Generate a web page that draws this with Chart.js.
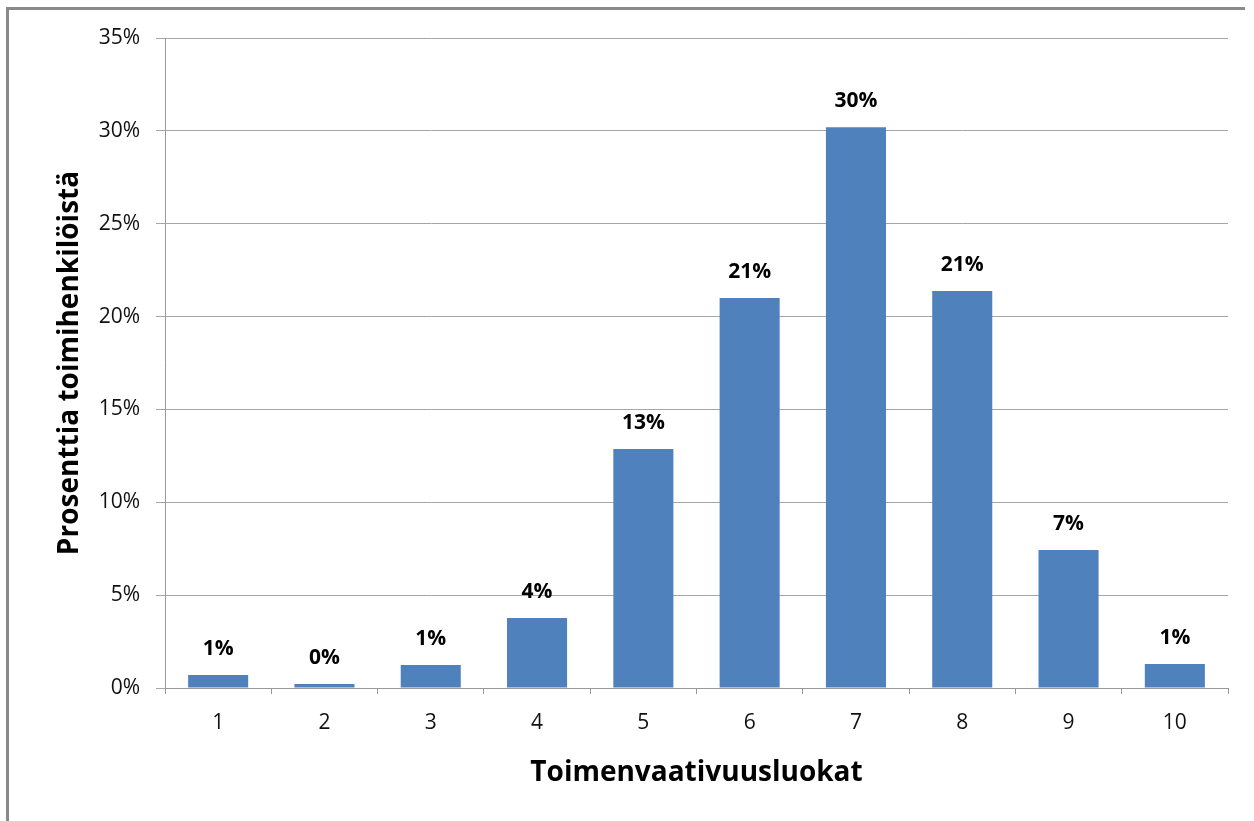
<!DOCTYPE html>
<html>
<head>
<meta charset="utf-8">
<script src="https://cdn.jsdelivr.net/npm/chart.js@4.4.1/dist/chart.umd.min.js"></script>
<style>
	html, body { margin: 0; padding: 0; background: #fff; }
	#wrap { position: relative; width: 1254px; height: 821px; overflow: hidden; }
	#frame { position: absolute; left: 6px; top: 7px; width: 1236px; height: 830px; border-top: 3px solid #8a8a8a; border-left: 3px solid #8a8a8a; pointer-events: none; }
	canvas { position: absolute; left: 0; top: 0; }
</style>
</head>
<body>
<div id="wrap">
	<canvas id="chart" width="1254" height="821"></canvas>
	<div id="frame"></div>
</div>
<script>
var categories = ['1', '2', '3', '4', '5', '6', '7', '8', '9', '10'];
var shareValues = [0.70, 0.22, 1.24, 3.77, 12.87, 21.0, 30.2, 21.38, 7.43, 1.29];
var yTicks = [0, 5, 10, 15, 20, 25, 30, 35];

// draws the percentage above each bar
const barLabels = {
	id: 'barLabels',
	afterDatasetsDraw(chart) {
		const ctx = chart.ctx;
		const meta = chart.getDatasetMeta(0);
		ctx.save();
		ctx.font = 'bold 21px "Open Sans"';
		ctx.fillStyle = '#000';
		ctx.textAlign = 'center';
		ctx.textBaseline = 'middle';
		meta.data.forEach(function (bar, i) {
			ctx.fillText(Math.round(shareValues[i]) + '%', bar.x, bar.y - 26);
		});
		ctx.restore();
	}
};

const el = document.getElementById('chart');
new Chart(el, {
	type: 'bar',
	data: {
		labels: categories,
		datasets: [{
			data: shareValues,
			backgroundColor: '#4f81bd',
			barPercentage: 0.565,
			categoryPercentage: 1.0
		}]
	},
	options: {
		responsive: false,
		animation: false,
		layout: { padding: { left: 40, right: 26, top: 38, bottom: 0 } },
		plugins: {
			legend: { display: false },
			tooltip: { enabled: false }
		},
		scales: {
			x: {
				offset: true,
				grid: { offset: true, drawOnChartArea: false, tickLength: 6, color: '#999' },
				border: { color: '#999' },
				ticks: { color: '#111', padding: 16, font: { family: 'Open Sans', size: 21 } },
				title: {
					display: true,
					text: 'Toimenvaativuusluokat',
					color: '#000',
					font: { family: 'Open Sans', size: 28, weight: 'bold' },
					padding: { top: 0, bottom: 31 }
				},
				afterFit: function (scale) { scale.height = 821 - 688; }
			},
			y: {
				min: 0,
				max: 35,
				afterBuildTicks: function (scale) {
					scale.ticks = yTicks.map(function (v) { return { value: v }; });
				},
				grid: { color: '#a6a6a6', tickLength: 9 },
				border: { color: '#999' },
				ticks: {
					color: '#111',
					padding: 16,
					font: { family: 'Open Sans', size: 21 },
					callback: function (v) { return v + '%'; }
				},
				title: {
					display: true,
					text: 'Prosenttia toimihenkilöistä',
					color: '#000',
					font: { family: 'Open Sans', size: 28, weight: 'bold' },
					padding: { top: 13, bottom: 0 }
				},
				afterFit: function (scale) { scale.width = 165 - 40; }
			}
		}
	},
	plugins: [barLabels]
});
</script>
</body>
</html>
